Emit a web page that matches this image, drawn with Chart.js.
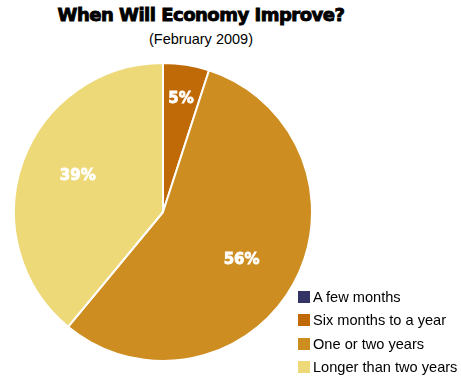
<!DOCTYPE html>
<html>
<head>
<meta charset="utf-8">
<script src="https://cdn.jsdelivr.net/npm/chart.js@4.4.1/dist/chart.umd.min.js"></script>
<style>
  html, body { margin: 0; padding: 0; background: #fff; }
  #wrap { position: relative; width: 461px; height: 378px; overflow: hidden; }
  #title {
    position: absolute; left: 0; width: 402px; top: 4px; text-align: center;
    font-family: "DejaVu Sans", sans-serif; font-weight: bold; font-size: 18px;
    color: #000; -webkit-text-stroke: 0.9px #000; letter-spacing: -0.5px;
  }
  #subtitle {
    position: absolute; left: 0; width: 402px; top: 31px; text-align: center;
    font-family: "Liberation Sans", Arial, sans-serif; font-size: 14.5px; color: #000;
  }
  #pieBox { position: absolute; left: 13px; top: 62px; width: 300px; height: 300px; }
  #legend { position: absolute; left: 298px; top: 285px; }
  .item { height: 23.5px; display: flex; align-items: center;
    font-family: "Liberation Sans", Arial, sans-serif; font-size: 14.6px; color: #000; }
  .swatch { width: 12px; height: 12px; margin-right: 3px; }
</style>
</head>
<body>
<div id="wrap">
  <div id="title">When Will Economy Improve?</div>
  <div id="subtitle">(February 2009)</div>
  <div id="pieBox"><canvas id="pie"></canvas></div>
  <div id="legend"></div>
</div>
<script>
const answers = ['A few months', 'Six months to a year', 'One or two years', 'Longer than two years'];
const percents = [0, 5, 56, 39];
const sliceColors = ['#333366', '#BF6A06', '#CD8D21', '#EDD978'];

// white percentage labels inside each slice
const sliceLabels = {
  id: 'sliceLabels',
  afterDatasetsDraw(chart) {
    const ctx = chart.ctx;
    const meta = chart.getDatasetMeta(0);
    ctx.save();
    ctx.fillStyle = '#fff';
    ctx.strokeStyle = '#fff';
    ctx.lineWidth = 0.8;
    ctx.font = 'bold 15px "DejaVu Sans", sans-serif';
    ctx.textAlign = 'center';
    ctx.textBaseline = 'middle';
    meta.data.forEach((arc, i) => {
      const v = percents[i];
      if (!v) return;
      const p = arc.getProps(['x', 'y', 'startAngle', 'endAngle', 'outerRadius'], true);
      const mid = (p.startAngle + p.endAngle) / 2 + (v < 10 ? 0 : 0.05);
      const r = p.outerRadius * (v < 10 ? 0.77 : 0.62);
      const x = p.x + Math.cos(mid) * r, y = p.y + Math.sin(mid) * r;
      ctx.fillText(v + '%', x, y);
      ctx.strokeText(v + '%', x, y);
    });
    ctx.restore();
  }
};

new Chart(document.getElementById('pie'), {
  type: 'pie',
  data: {
    labels: answers,
    datasets: [{
      data: percents,
      backgroundColor: sliceColors,
      borderColor: '#fff',
      borderWidth: 2,
      hoverOffset: 0
    }]
  },
  options: {
    responsive: true,
    maintainAspectRatio: false,
    animation: false,
    layout: { padding: 0 },
    plugins: {
      legend: { display: false },
      tooltip: { enabled: false }
    }
  },
  plugins: [sliceLabels]
});

const legend = document.getElementById('legend');
answers.forEach((name, i) => {
  const row = document.createElement('div');
  row.className = 'item';
  row.innerHTML = '<span class="swatch" style="background:' + sliceColors[i] + '"></span>' + name;
  legend.appendChild(row);
});
</script>
</body>
</html>
